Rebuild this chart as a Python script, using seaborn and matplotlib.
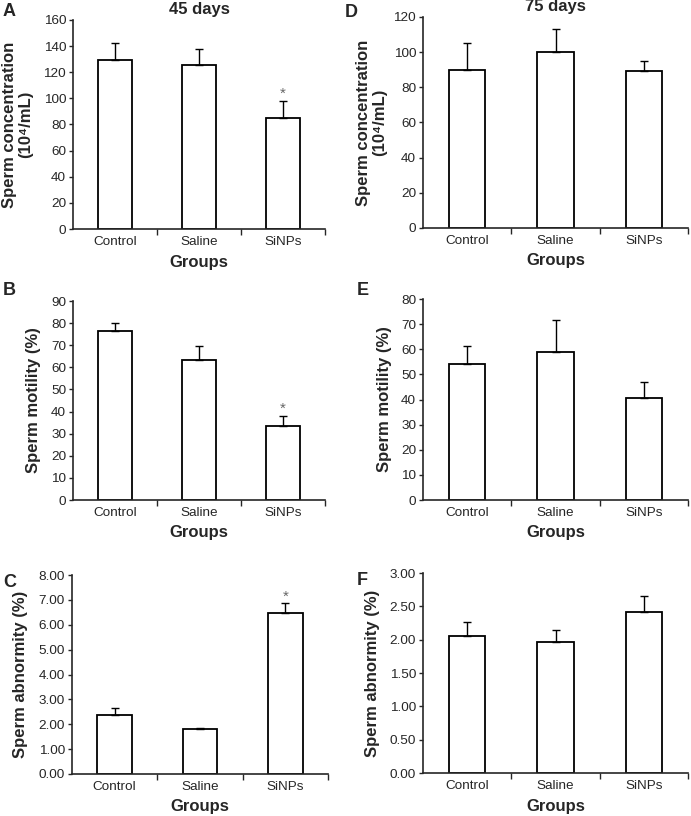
#!/usr/bin/env python3
import numpy as np
import pandas as pd
import matplotlib
matplotlib.use("Agg")
import matplotlib.pyplot as plt
from matplotlib.ticker import FormatStrFormatter, MultipleLocator
import seaborn as sns

sns.set_style("ticks")
plt.rcParams["font.family"] = ["Liberation Sans", "DejaVu Sans"]
plt.rcParams["axes.linewidth"] = 1.2

# data (mean, upper error)
groups = ["Control", "Saline", "SiNPs"]

conc45_mean = [129.5, 125.5, 85.0]
conc45_err = [13.0, 12.5, 12.8]
mot45_mean = [76.6, 63.4, 33.4]
mot45_err = [3.5, 6.1, 4.8]
abn45_mean = [2.37, 1.82, 6.48]
abn45_err = [0.29, 0.04, 0.38]

conc75_mean = [89.8, 100.2, 89.2]
conc75_err = [15.2, 13.1, 6.0]
mot75_mean = [54.2, 59.1, 40.7]
mot75_err = [7.2, 12.4, 6.3]
abn75_mean = [2.05, 1.96, 2.42]
abn75_err = [0.21, 0.18, 0.23]

signif45 = [False, False, True]
signif75 = [False, False, False]

W, H = 691, 816
fig = plt.figure(figsize=(W / 100, H / 100), dpi=100)

TICK_FS = 9.7
LABEL_FS = 12


def px_axes(x0, x1, y0, y1):
    return fig.add_axes([x0 / W, 1 - y1 / H, (x1 - x0) / W, (y1 - y0) / H])


panels = [
    # letter, rect(px), means, errs, ylim, step, fmt, ylabel, title, signif, label x(px)
    ("A", (73, 325, 20, 229), conc45_mean, conc45_err, 160, 20, "%d",
     "Sperm concentration\n(10⁴/mL)", "45 days", signif45, 18),
    ("B", (73, 325, 301, 500), mot45_mean, mot45_err, 90, 10, "%d",
     "Sperm motility (%)", None, signif45, 34),
    ("C", (72, 328, 575, 774), abn45_mean, abn45_err, 8, 1, "%.2f",
     "Sperm abnormity (%)", None, signif45, 21),
    ("D", (423, 688, 17, 228), conc75_mean, conc75_err, 120, 20, "%d",
     "Sperm concentration\n(10⁴/mL)", "75 days", signif75, 372),
    ("E", (423, 688, 299, 500), mot75_mean, mot75_err, 80, 10, "%d",
     "Sperm motility (%)", None, signif75, 384),
    ("F", (423, 688, 573, 773), abn75_mean, abn75_err, 3, 0.5, "%.2f",
     "Sperm abnormity (%)", None, signif75, 372),
]
letter_pos = {"A": (3, 3), "B": (3, 282), "C": (3, 574),
              "D": (345, 4), "E": (357, 282), "F": (357, 572)}

for letter, (x0, x1, y0, y1), means, errs, ytop, step, fmt, ylab, title, sig, lx in panels:
    ax = px_axes(x0, x1, y0, y1)
    df = pd.DataFrame({"Group": groups, "Value": means})
    sns.barplot(data=df, x="Group", y="Value", color="white", edgecolor="black",
                linewidth=1.3, width=0.41, errorbar=None, ax=ax)
    for p in ax.patches:
        p.set_facecolor("white")
    ax.errorbar(np.arange(len(groups)), means,
                yerr=[np.zeros(len(errs)), errs], fmt="none",
                ecolor="black", elinewidth=1.0, capsize=3, capthick=1.0, zorder=1)
    for i, s in enumerate(sig):
        if s:
            ax.text(i, means[i] + errs[i], "*", ha="center", va="bottom",
                    color="#666666", fontsize=11)

    ax.set_xlim(-0.5, 2.5)
    ax.set_ylim(0, ytop)
    ax.yaxis.set_major_locator(MultipleLocator(step))
    ax.yaxis.set_major_formatter(FormatStrFormatter(fmt))
    ax.set_xticks(range(len(groups)))
    ax.set_xticklabels(groups)
    ax.set_xticks([0.5, 1.5, 2.5], minor=True)
    ax.tick_params(axis="x", which="major", length=0, pad=5, labelsize=TICK_FS)
    ax.tick_params(axis="x", which="minor", length=4, width=1.0, direction="out")
    ax.tick_params(axis="y", length=3, width=1.0, pad=2, labelsize=TICK_FS)
    sns.despine(ax=ax)

    ax.set_xlabel("Groups", fontsize=LABEL_FS, fontweight="bold", va="center")
    ax.xaxis.set_label_coords(0.5, -33 / (y1 - y0))
    ax.set_ylabel(ylab, fontsize=LABEL_FS, fontweight="bold", va="center",
                  linespacing=1.1)
    ax.yaxis.set_label_coords((lx - x0) / (x1 - x0), 0.5)
    if title:
        # title baseline sits ~6-7 px above the top of the axes
        ax.text(0.5, 1 + 6 / (y1 - y0), title, transform=ax.transAxes,
                ha="center", va="baseline", fontsize=LABEL_FS, fontweight="bold")

    tx, ty = letter_pos[letter]
    fig.text(tx / W, 1 - ty / H, letter, ha="left", va="top",
             fontsize=13, fontweight="bold")

fig.savefig("out.png", dpi=100)
